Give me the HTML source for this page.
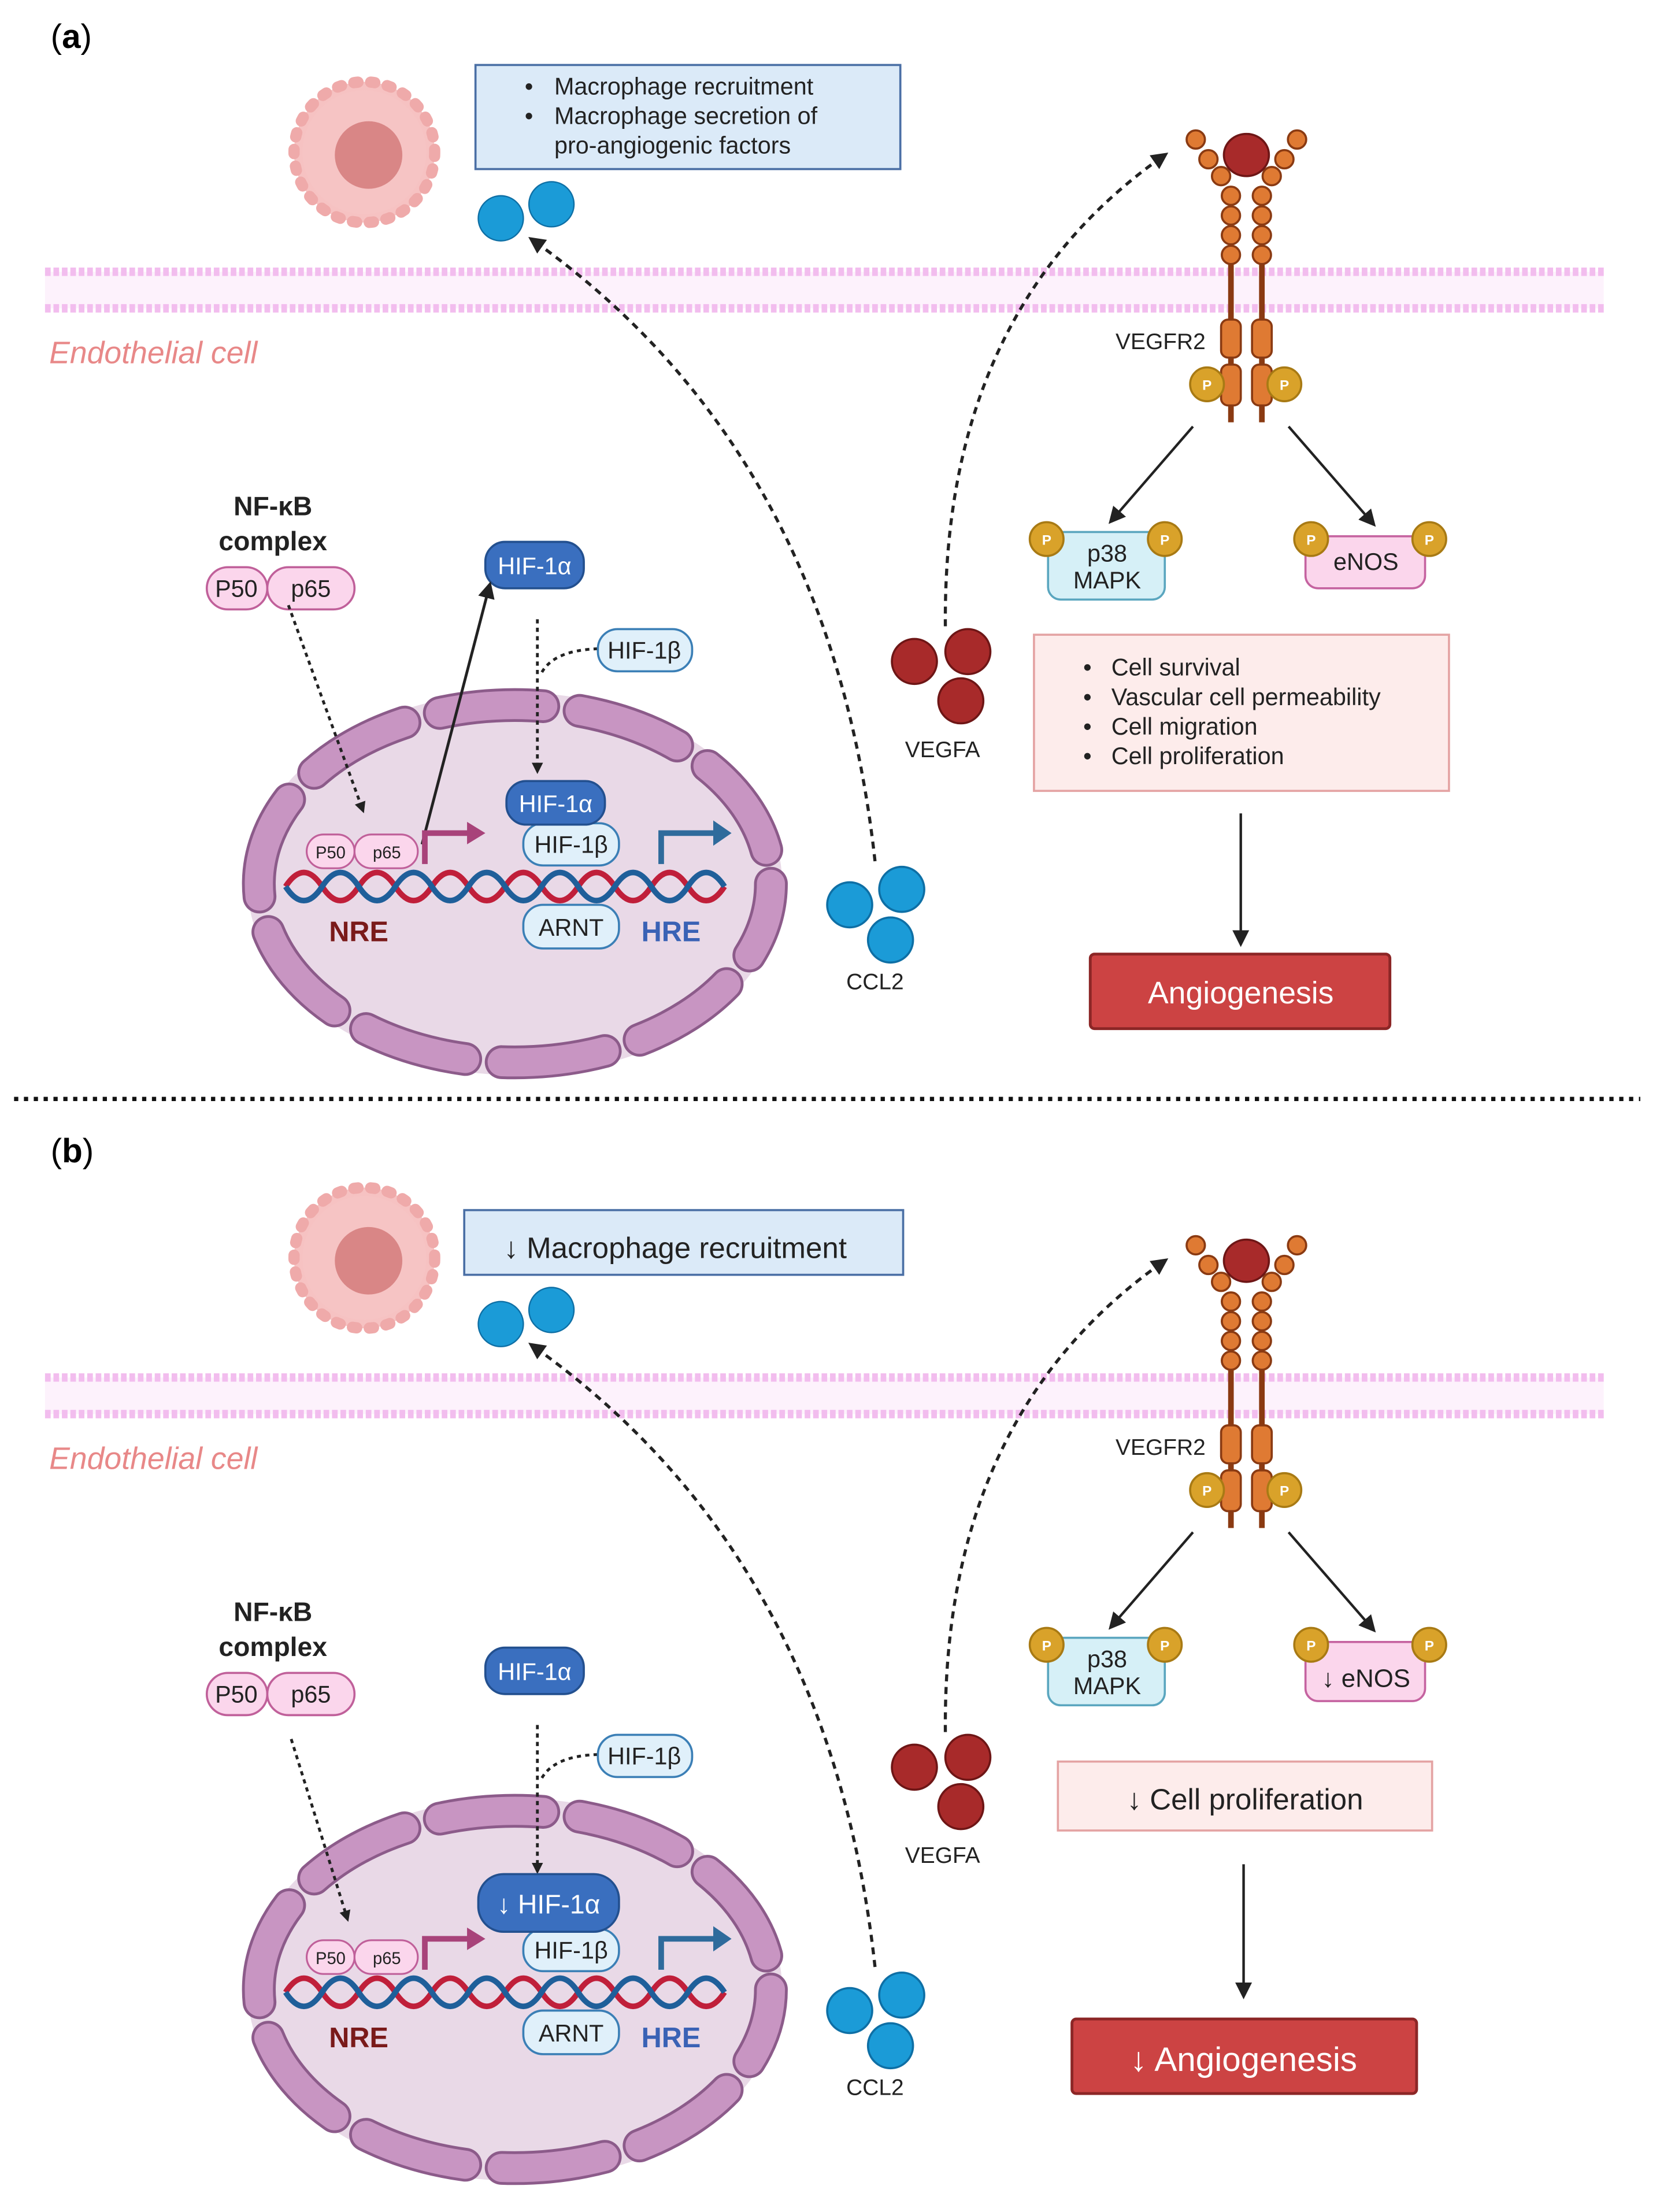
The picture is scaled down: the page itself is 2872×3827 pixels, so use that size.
<!DOCTYPE html>
<html><head><meta charset="utf-8"><style>
html,body{margin:0;padding:0;background:#fff;}
svg{display:block;}
text{font-family:"Liberation Sans",sans-serif;}
</style></head><body>
<svg width="2872" height="3827" viewBox="0 0 1180 1572" xmlns="http://www.w3.org/2000/svg">
<defs>
<marker id="ah" markerWidth="8" markerHeight="8" refX="6" refY="4" orient="auto" markerUnits="userSpaceOnUse" viewBox="0 0 8 8"><path d="M0,0 L8,4 L0,8 z" fill="#222"/></marker>
<marker id="ahb" markerWidth="12" markerHeight="12" refX="9" refY="6" orient="auto" markerUnits="userSpaceOnUse" viewBox="0 0 12 12"><path d="M0,0 L12,6 L0,12 z" fill="#222"/></marker>
</defs>
<rect width="1180" height="1572" fill="#fff"/>

<!-- ================= PANEL A ================= -->
<g>
<text x="36" y="34" font-family="Liberation Serif,serif" font-size="24">(<tspan font-weight="bold">a</tspan>)</text>
<circle cx="259" cy="108" r="50" fill="#f6c2c2" stroke="#efaaaa" stroke-width="8" stroke-dasharray="3 9" stroke-linecap="round"/>
<circle cx="259" cy="108" r="44" fill="#f6c4c4"/>
<circle cx="262" cy="110" r="24" fill="#d98686"/>
<rect x="338" y="46" width="302" height="74" fill="#dbeaf8" stroke="#4a6fa5" stroke-width="1.5"/>
<g font-size="17" fill="#222">
<text x="373" y="67">•</text><text x="394" y="67">Macrophage recruitment</text>
<text x="373" y="88">•</text><text x="394" y="88">Macrophage secretion of</text>
<text x="394" y="109">pro-angiogenic factors</text>
</g>
<circle cx="356" cy="155" r="16" fill="#1b9bd7" stroke="#0e6fa5"/>
<circle cx="392" cy="145" r="16" fill="#1b9bd7" stroke="#0e6fa5"/>
<rect x="32" y="193" width="1108" height="26" fill="#fdf2fc"/>
<line x1="32" y1="193" x2="1140" y2="193" stroke="#f2bdee" stroke-width="6" stroke-dasharray="4 2"/>
<line x1="32" y1="219" x2="1140" y2="219" stroke="#f2bdee" stroke-width="6" stroke-dasharray="4 2"/>
<text x="35" y="258" font-size="22" font-style="italic" fill="#e88888">Endothelial cell</text>
<path d="M622,612 Q590,320 378,170" fill="none" stroke="#222" stroke-width="2.2" stroke-dasharray="5 4" marker-end="url(#ahb)"/>
<path d="M672,445 Q670,220 828,110" fill="none" stroke="#222" stroke-width="2.2" stroke-dasharray="5 4" marker-end="url(#ahb)"/>
<g stroke="#8a3a12" stroke-width="1.5" fill="#df7a33">
<line x1="875" y1="182" x2="875" y2="300" stroke="#8a3a12" stroke-width="4"/>
<line x1="897" y1="182" x2="897" y2="300" stroke="#8a3a12" stroke-width="4"/>
<circle cx="850" cy="99" r="6.5"/><circle cx="859" cy="113" r="6.5"/><circle cx="868" cy="125" r="6.5"/>
<circle cx="922" cy="99" r="6.5"/><circle cx="913" cy="113" r="6.5"/><circle cx="904" cy="125" r="6.5"/>
<circle cx="875" cy="139" r="6.5"/><circle cx="875" cy="153" r="6.5"/><circle cx="875" cy="167" r="6.5"/><circle cx="875" cy="181" r="6.5"/>
<circle cx="897" cy="139" r="6.5"/><circle cx="897" cy="153" r="6.5"/><circle cx="897" cy="167" r="6.5"/><circle cx="897" cy="181" r="6.5"/>
<rect x="868" y="227" width="14" height="27" rx="5"/><rect x="890" y="227" width="14" height="27" rx="5"/>
<rect x="868" y="259" width="14" height="29" rx="5"/><rect x="890" y="259" width="14" height="29" rx="5"/>
</g>
<ellipse cx="886" cy="110" rx="16" ry="15" fill="#a82a2a" stroke="#6e1616" stroke-width="1.5"/>
<g fill="#d9a22a" stroke="#a87a14" stroke-width="1.5"><circle cx="858" cy="273" r="12"/><circle cx="913" cy="273" r="12"/></g>
<g font-size="10" fill="#fff" text-anchor="middle" font-weight="bold"><text x="858" y="277">P</text><text x="913" y="277">P</text></g>
<text x="857" y="248" font-size="16" text-anchor="end" fill="#222">VEGFR2</text>
<line x1="848" y1="303" x2="790" y2="370" stroke="#222" stroke-width="1.8" marker-end="url(#ahb)"/>
<line x1="916" y1="303" x2="976" y2="372" stroke="#222" stroke-width="1.8" marker-end="url(#ahb)"/>
<rect x="745" y="378" width="83" height="48" rx="9" fill="#d6f0f7" stroke="#5aa6bf" stroke-width="1.5"/>
<text x="787" y="399" font-size="17" text-anchor="middle" fill="#222">p38</text>
<text x="787" y="418" font-size="17" text-anchor="middle" fill="#222">MAPK</text>
<rect x="928" y="381" width="85" height="37" rx="9" fill="#fbd6ec" stroke="#c563a0" stroke-width="1.5"/>
<text x="971" y="405" font-size="17" text-anchor="middle" fill="#222">eNOS</text>
<g fill="#d9a22a" stroke="#a87a14" stroke-width="1.5"><circle cx="744" cy="383" r="12"/><circle cx="828" cy="383" r="12"/><circle cx="932" cy="383" r="12"/><circle cx="1016" cy="383" r="12"/></g>
<g font-size="10" fill="#fff" text-anchor="middle" font-weight="bold"><text x="744" y="387">P</text><text x="828" y="387">P</text><text x="932" y="387">P</text><text x="1016" y="387">P</text></g>
<rect x="735" y="451" width="295" height="111" fill="#fdeceb" stroke="#e4a3a3" stroke-width="1.5"/>
<g font-size="17" fill="#222">
<text x="770" y="480">•</text><text x="790" y="480">Cell survival</text>
<text x="770" y="501">•</text><text x="790" y="501">Vascular cell permeability</text>
<text x="770" y="522">•</text><text x="790" y="522">Cell migration</text>
<text x="770" y="543">•</text><text x="790" y="543">Cell proliferation</text>
</g>
<line x1="882" y1="578" x2="882" y2="670" stroke="#222" stroke-width="1.8" marker-end="url(#ahb)"/>
<rect x="775" y="678" width="213" height="53" rx="3" fill="#cc4343" stroke="#8c2626" stroke-width="2"/>
<text x="882" y="713" font-size="22" text-anchor="middle" fill="#fff">Angiogenesis</text>
<g fill="#a82a2a" stroke="#6e1616" stroke-width="1.5"><circle cx="650" cy="470" r="16"/><circle cx="688" cy="463" r="16"/><circle cx="683" cy="498" r="16"/></g>
<text x="670" y="538" font-size="16" text-anchor="middle" fill="#222">VEGFA</text>
<g fill="#1b9bd7" stroke="#0e6fa5" stroke-width="1.5"><circle cx="604" cy="643" r="16"/><circle cx="641" cy="632" r="16"/><circle cx="633" cy="668" r="16"/></g>
<text x="622" y="703" font-size="16" text-anchor="middle" fill="#222">CCL2</text>
<!-- nucleus (drawn first) -->
<ellipse cx="366" cy="628" rx="190" ry="136" fill="#e9d9e7"/>
<ellipse cx="366" cy="628" rx="182" ry="127" fill="none" stroke="#8c5b8a" stroke-width="24" stroke-dasharray="74 26" stroke-dashoffset="20" stroke-linecap="round"/>
<ellipse cx="366" cy="628" rx="182" ry="127" fill="none" stroke="#c895c2" stroke-width="20" stroke-dasharray="74 26" stroke-dashoffset="20" stroke-linecap="round"/>
<text x="194" y="366" font-size="19" font-weight="bold" text-anchor="middle" fill="#222">NF-κB</text>
<text x="194" y="391" font-size="19" font-weight="bold" text-anchor="middle" fill="#222">complex</text>
<rect x="147" y="403" width="43" height="30" rx="15" fill="#fbd6ec" stroke="#c0609a" stroke-width="1.5"/>
<rect x="190" y="403" width="62" height="30" rx="15" fill="#fbd6ec" stroke="#c0609a" stroke-width="1.5"/>
<text x="168" y="424" font-size="17" text-anchor="middle" fill="#222">P50</text>
<text x="221" y="424" font-size="17" text-anchor="middle" fill="#222">p65</text>
<line x1="205" y1="430" x2="258" y2="576" stroke="#222" stroke-width="2" stroke-dasharray="3 3" marker-end="url(#ah)"/>
<rect x="345" y="385" width="70" height="33" rx="14" fill="#3a6fbf" stroke="#23508f" stroke-width="1.5"/>
<text x="380" y="408" font-size="17" text-anchor="middle" fill="#fff">HIF-1α</text>
<line x1="300" y1="600" x2="348" y2="416" stroke="#222" stroke-width="2" marker-end="url(#ahb)"/>
<line x1="382" y1="440" x2="382" y2="548" stroke="#222" stroke-width="2" stroke-dasharray="3 3" marker-end="url(#ah)"/>
<path d="M425,461 Q392,462 384,480" fill="none" stroke="#222" stroke-width="2" stroke-dasharray="3 3"/>
<rect x="425" y="447" width="67" height="30" rx="14" fill="#e0f0fa" stroke="#3b7fb6" stroke-width="1.5"/>
<text x="458" y="468" font-size="17" text-anchor="middle" fill="#222">HIF-1β</text>
<path d="M203,630 q13,-20 26,0 t26,0 t26,0 t26,0 t26,0 t26,0 t26,0 t26,0 t26,0 t26,0 t26,0 t26,0" fill="none" stroke="#c01f3a" stroke-width="4"/>
<path d="M203,630 q13,20 26,0 t26,0 t26,0 t26,0 t26,0 t26,0 t26,0 t26,0 t26,0 t26,0 t26,0 t26,0" fill="none" stroke="#1f5f9a" stroke-width="4"/>
<rect x="218" y="593" width="34" height="24" rx="12" fill="#fbd6ec" stroke="#c0609a" stroke-width="1.3"/>
<rect x="252" y="593" width="45" height="24" rx="12" fill="#fbd6ec" stroke="#c0609a" stroke-width="1.3"/>
<text x="235" y="610" font-size="12" text-anchor="middle" fill="#222">P50</text>
<text x="275" y="610" font-size="12" text-anchor="middle" fill="#222">p65</text>
<path d="M302,614 V592 H333" fill="none" stroke="#a8437a" stroke-width="4"/><path d="M332,584 L345,592 L332,600 z" fill="#a8437a"/>
<path d="M470,614 V592 H508" fill="none" stroke="#2f6b9c" stroke-width="4"/><path d="M507,583 L520,592 L507,601 z" fill="#2f6b9c"/>
<rect x="372" y="585" width="68" height="30" rx="14" fill="#e0f0fa" stroke="#3b7fb6" stroke-width="1.5"/>
<text x="406" y="606" font-size="17" text-anchor="middle" fill="#222">HIF-1β</text>
<rect x="360" y="555" width="70" height="31" rx="14" fill="#3a6fbf" stroke="#23508f" stroke-width="1.5"/>
<text x="395" y="577" font-size="17" text-anchor="middle" fill="#fff">HIF-1α</text>
<rect x="372" y="643" width="68" height="31" rx="14" fill="#e0f0fa" stroke="#3b7fb6" stroke-width="1.5"/>
<text x="406" y="665" font-size="17" text-anchor="middle" fill="#222">ARNT</text>
<text x="255" y="669" font-size="20" font-weight="bold" text-anchor="middle" fill="#7a1a1a">NRE</text>
<text x="477" y="669" font-size="20" font-weight="bold" text-anchor="middle" fill="#3a62b5">HRE</text>
</g>

<line x1="10" y1="781" x2="1166" y2="781" stroke="#111" stroke-width="3" stroke-dasharray="3 4"/>

<!-- ================= PANEL B ================= -->
<g transform="translate(0,786)">
<text x="36" y="40" font-family="Liberation Serif,serif" font-size="24">(<tspan font-weight="bold">b</tspan>)</text>
<circle cx="259" cy="108" r="50" fill="#f6c2c2" stroke="#efaaaa" stroke-width="8" stroke-dasharray="3 9" stroke-linecap="round"/>
<circle cx="259" cy="108" r="44" fill="#f6c4c4"/>
<circle cx="262" cy="110" r="24" fill="#d98686"/>
<rect x="330" y="74" width="312" height="46" fill="#dbeaf8" stroke="#4a6fa5" stroke-width="1.5"/>
<text x="358" y="108" font-size="21" fill="#222">↓ Macrophage recruitment</text>
<circle cx="356" cy="155" r="16" fill="#1b9bd7" stroke="#0e6fa5"/>
<circle cx="392" cy="145" r="16" fill="#1b9bd7" stroke="#0e6fa5"/>
<rect x="32" y="193" width="1108" height="26" fill="#fdf2fc"/>
<line x1="32" y1="193" x2="1140" y2="193" stroke="#f2bdee" stroke-width="6" stroke-dasharray="4 2"/>
<line x1="32" y1="219" x2="1140" y2="219" stroke="#f2bdee" stroke-width="6" stroke-dasharray="4 2"/>
<text x="35" y="258" font-size="22" font-style="italic" fill="#e88888">Endothelial cell</text>
<path d="M622,612 Q590,320 378,170" fill="none" stroke="#222" stroke-width="2.2" stroke-dasharray="5 4" marker-end="url(#ahb)"/>
<path d="M672,445 Q670,220 828,110" fill="none" stroke="#222" stroke-width="2.2" stroke-dasharray="5 4" marker-end="url(#ahb)"/>
<g stroke="#8a3a12" stroke-width="1.5" fill="#df7a33">
<line x1="875" y1="182" x2="875" y2="300" stroke="#8a3a12" stroke-width="4"/>
<line x1="897" y1="182" x2="897" y2="300" stroke="#8a3a12" stroke-width="4"/>
<circle cx="850" cy="99" r="6.5"/><circle cx="859" cy="113" r="6.5"/><circle cx="868" cy="125" r="6.5"/>
<circle cx="922" cy="99" r="6.5"/><circle cx="913" cy="113" r="6.5"/><circle cx="904" cy="125" r="6.5"/>
<circle cx="875" cy="139" r="6.5"/><circle cx="875" cy="153" r="6.5"/><circle cx="875" cy="167" r="6.5"/><circle cx="875" cy="181" r="6.5"/>
<circle cx="897" cy="139" r="6.5"/><circle cx="897" cy="153" r="6.5"/><circle cx="897" cy="167" r="6.5"/><circle cx="897" cy="181" r="6.5"/>
<rect x="868" y="227" width="14" height="27" rx="5"/><rect x="890" y="227" width="14" height="27" rx="5"/>
<rect x="868" y="259" width="14" height="29" rx="5"/><rect x="890" y="259" width="14" height="29" rx="5"/>
</g>
<ellipse cx="886" cy="110" rx="16" ry="15" fill="#a82a2a" stroke="#6e1616" stroke-width="1.5"/>
<g fill="#d9a22a" stroke="#a87a14" stroke-width="1.5"><circle cx="858" cy="273" r="12"/><circle cx="913" cy="273" r="12"/></g>
<g font-size="10" fill="#fff" text-anchor="middle" font-weight="bold"><text x="858" y="277">P</text><text x="913" y="277">P</text></g>
<text x="857" y="248" font-size="16" text-anchor="end" fill="#222">VEGFR2</text>
<line x1="848" y1="303" x2="790" y2="370" stroke="#222" stroke-width="1.8" marker-end="url(#ahb)"/>
<line x1="916" y1="303" x2="976" y2="372" stroke="#222" stroke-width="1.8" marker-end="url(#ahb)"/>
<rect x="745" y="378" width="83" height="48" rx="9" fill="#d6f0f7" stroke="#5aa6bf" stroke-width="1.5"/>
<text x="787" y="399" font-size="17" text-anchor="middle" fill="#222">p38</text>
<text x="787" y="418" font-size="17" text-anchor="middle" fill="#222">MAPK</text>
<rect x="928" y="381" width="85" height="42" rx="9" fill="#fbd6ec" stroke="#c563a0" stroke-width="1.5"/>
<text x="971" y="413" font-size="18" text-anchor="middle" fill="#222">↓ eNOS</text>
<g fill="#d9a22a" stroke="#a87a14" stroke-width="1.5"><circle cx="744" cy="383" r="12"/><circle cx="828" cy="383" r="12"/><circle cx="932" cy="383" r="12"/><circle cx="1016" cy="383" r="12"/></g>
<g font-size="10" fill="#fff" text-anchor="middle" font-weight="bold"><text x="744" y="387">P</text><text x="828" y="387">P</text><text x="932" y="387">P</text><text x="1016" y="387">P</text></g>
<rect x="752" y="466" width="266" height="49" fill="#fdeceb" stroke="#e4a3a3" stroke-width="1.5"/>
<text x="885" y="500" font-size="21" text-anchor="middle" fill="#222">↓ Cell proliferation</text>
<line x1="884" y1="539" x2="884" y2="632" stroke="#222" stroke-width="1.8" marker-end="url(#ahb)"/>
<rect x="762" y="649" width="245" height="53" rx="3" fill="#cc4343" stroke="#8c2626" stroke-width="2"/>
<text x="884" y="686" font-size="24" text-anchor="middle" fill="#fff">↓  Angiogenesis</text>
<g fill="#a82a2a" stroke="#6e1616" stroke-width="1.5"><circle cx="650" cy="470" r="16"/><circle cx="688" cy="463" r="16"/><circle cx="683" cy="498" r="16"/></g>
<text x="670" y="538" font-size="16" text-anchor="middle" fill="#222">VEGFA</text>
<g fill="#1b9bd7" stroke="#0e6fa5" stroke-width="1.5"><circle cx="604" cy="643" r="16"/><circle cx="641" cy="632" r="16"/><circle cx="633" cy="668" r="16"/></g>
<text x="622" y="703" font-size="16" text-anchor="middle" fill="#222">CCL2</text>
<ellipse cx="366" cy="628" rx="190" ry="136" fill="#e9d9e7"/>
<ellipse cx="366" cy="628" rx="182" ry="127" fill="none" stroke="#8c5b8a" stroke-width="24" stroke-dasharray="74 26" stroke-dashoffset="20" stroke-linecap="round"/>
<ellipse cx="366" cy="628" rx="182" ry="127" fill="none" stroke="#c895c2" stroke-width="20" stroke-dasharray="74 26" stroke-dashoffset="20" stroke-linecap="round"/>
<text x="194" y="366" font-size="19" font-weight="bold" text-anchor="middle" fill="#222">NF-κB</text>
<text x="194" y="391" font-size="19" font-weight="bold" text-anchor="middle" fill="#222">complex</text>
<rect x="147" y="403" width="43" height="30" rx="15" fill="#fbd6ec" stroke="#c0609a" stroke-width="1.5"/>
<rect x="190" y="403" width="62" height="30" rx="15" fill="#fbd6ec" stroke="#c0609a" stroke-width="1.5"/>
<text x="168" y="424" font-size="17" text-anchor="middle" fill="#222">P50</text>
<text x="221" y="424" font-size="17" text-anchor="middle" fill="#222">p65</text>
<line x1="207" y1="450" x2="247" y2="578" stroke="#222" stroke-width="2" stroke-dasharray="3 3" marker-end="url(#ah)"/>
<rect x="345" y="385" width="70" height="33" rx="14" fill="#3a6fbf" stroke="#23508f" stroke-width="1.5"/>
<text x="380" y="408" font-size="17" text-anchor="middle" fill="#fff">HIF-1α</text>
<line x1="382" y1="440" x2="382" y2="544" stroke="#222" stroke-width="2" stroke-dasharray="3 3" marker-end="url(#ah)"/>
<path d="M425,461 Q392,462 384,480" fill="none" stroke="#222" stroke-width="2" stroke-dasharray="3 3"/>
<rect x="425" y="447" width="67" height="30" rx="14" fill="#e0f0fa" stroke="#3b7fb6" stroke-width="1.5"/>
<text x="458" y="468" font-size="17" text-anchor="middle" fill="#222">HIF-1β</text>
<path d="M203,630 q13,-20 26,0 t26,0 t26,0 t26,0 t26,0 t26,0 t26,0 t26,0 t26,0 t26,0 t26,0 t26,0" fill="none" stroke="#c01f3a" stroke-width="4"/>
<path d="M203,630 q13,20 26,0 t26,0 t26,0 t26,0 t26,0 t26,0 t26,0 t26,0 t26,0 t26,0 t26,0 t26,0" fill="none" stroke="#1f5f9a" stroke-width="4"/>
<rect x="218" y="593" width="34" height="24" rx="12" fill="#fbd6ec" stroke="#c0609a" stroke-width="1.3"/>
<rect x="252" y="593" width="45" height="24" rx="12" fill="#fbd6ec" stroke="#c0609a" stroke-width="1.3"/>
<text x="235" y="610" font-size="12" text-anchor="middle" fill="#222">P50</text>
<text x="275" y="610" font-size="12" text-anchor="middle" fill="#222">p65</text>
<path d="M302,614 V592 H333" fill="none" stroke="#a8437a" stroke-width="4"/><path d="M332,584 L345,592 L332,600 z" fill="#a8437a"/>
<path d="M470,614 V592 H508" fill="none" stroke="#2f6b9c" stroke-width="4"/><path d="M507,583 L520,592 L507,601 z" fill="#2f6b9c"/>
<rect x="372" y="585" width="68" height="30" rx="14" fill="#e0f0fa" stroke="#3b7fb6" stroke-width="1.5"/>
<text x="406" y="606" font-size="17" text-anchor="middle" fill="#222">HIF-1β</text>
<rect x="340" y="546" width="100" height="41" rx="18" fill="#3a6fbf" stroke="#23508f" stroke-width="1.5"/>
<text x="390" y="574" font-size="19" text-anchor="middle" fill="#fff">↓ HIF-1α</text>
<rect x="372" y="643" width="68" height="31" rx="14" fill="#e0f0fa" stroke="#3b7fb6" stroke-width="1.5"/>
<text x="406" y="665" font-size="17" text-anchor="middle" fill="#222">ARNT</text>
<text x="255" y="669" font-size="20" font-weight="bold" text-anchor="middle" fill="#7a1a1a">NRE</text>
<text x="477" y="669" font-size="20" font-weight="bold" text-anchor="middle" fill="#3a62b5">HRE</text>
</g>
</svg>
</body></html>
